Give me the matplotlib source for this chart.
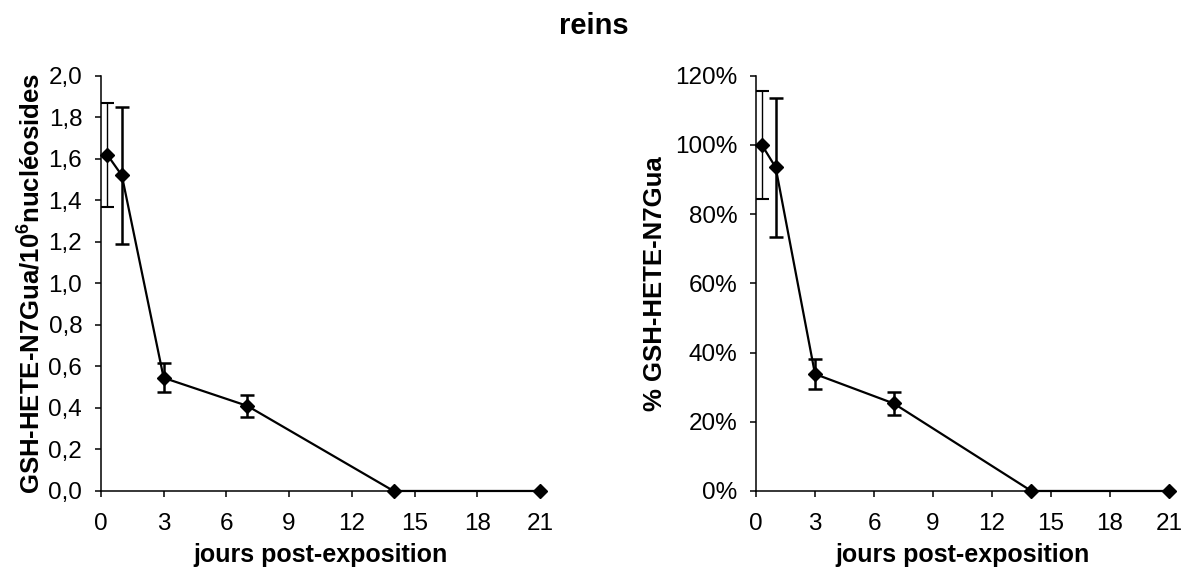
import matplotlib
matplotlib.use("Agg")
import matplotlib.pyplot as plt
from matplotlib.ticker import FuncFormatter, MultipleLocator

plt.rcParams['font.family'] = ['Liberation Sans', 'DejaVu Sans']
plt.rcParams['mathtext.fontset'] = 'custom'
plt.rcParams['mathtext.bf'] = 'Liberation Sans:bold'
plt.rcParams['mathtext.rm'] = 'Liberation Sans:bold'

# Data
jours = [0.3, 1, 3, 7, 14, 21]
adduits = [1.62, 1.52, 0.545, 0.41, 0.0, 0.0]
adduits_err = [0.25, 0.33, 0.07, 0.053, 0.0, 0.0]
pourcent = [100.0, 93.5, 33.8, 25.3, 0.0, 0.0]
pourcent_err = [15.5, 20.0, 4.2, 3.3, 0.0, 0.0]

x_ticks = [0, 3, 6, 9, 12, 15, 18, 21]
titre = "reins"
xlabel = "jours post-exposition"
ylabel_left = r"GSH-HETE-N7Gua/10$^{\mathbf{6}}$nucléosides"
ylabel_right = "% GSH-HETE-N7Gua"

FS = 17.5

fig = plt.figure(figsize=(11.82, 5.68), dpi=100)
ax1 = fig.add_axes([0.0854, 0.1356, 0.3714, 0.731])
ax2 = fig.add_axes([0.6396, 0.1356, 0.3494, 0.731])


def draw(ax, y, err):
    ax.plot(jours, y, color='black', lw=1.6, marker='D', ms=7.5, zorder=3, clip_on=False)
    # first error bar thinner, others thicker
    ax.errorbar(jours[:1], y[:1], yerr=err[:1], fmt='none', ecolor='black',
                elinewidth=1.0, capsize=5, capthick=1.5, zorder=2)
    ax.errorbar(jours[1:4], y[1:4], yerr=err[1:4], fmt='none', ecolor='black',
                elinewidth=1.8, capsize=5, capthick=1.8, zorder=2)
    ax.set_xlim(0, 21)
    ax.set_xticks(x_ticks)
    for s in ['top', 'right']:
        ax.spines[s].set_visible(False)
    for s in ['left', 'bottom']:
        ax.spines[s].set_linewidth(1.1)
    ax.tick_params(axis='both', direction='out', length=4.5, width=1.1,
                   labelsize=FS)
    ax.tick_params(axis='x', pad=11)
    ax.tick_params(axis='y', pad=9)
    ax.set_xlabel(xlabel, fontsize=18, fontweight='bold', labelpad=6)


draw(ax1, adduits, adduits_err)
ax1.set_ylim(0, 2.0)
ax1.yaxis.set_major_locator(MultipleLocator(0.2))
ax1.yaxis.set_major_formatter(FuncFormatter(lambda v, p: f"{v:.1f}".replace('.', ',')))
ax1.set_ylabel(ylabel_left, fontsize=18.5, fontweight='bold', labelpad=3)

draw(ax2, pourcent, pourcent_err)
ax2.set_ylim(0, 120)
ax2.yaxis.set_major_locator(MultipleLocator(20))
ax2.yaxis.set_major_formatter(FuncFormatter(lambda v, p: f"{v:.0f}%"))
ax2.set_ylabel(ylabel_right, fontsize=18.5, fontweight='bold', labelpad=6)

fig.text(0.502, 0.955, titre, ha='center', va='center', fontsize=21, fontweight='bold')

fig.savefig("out.png", dpi=100)
